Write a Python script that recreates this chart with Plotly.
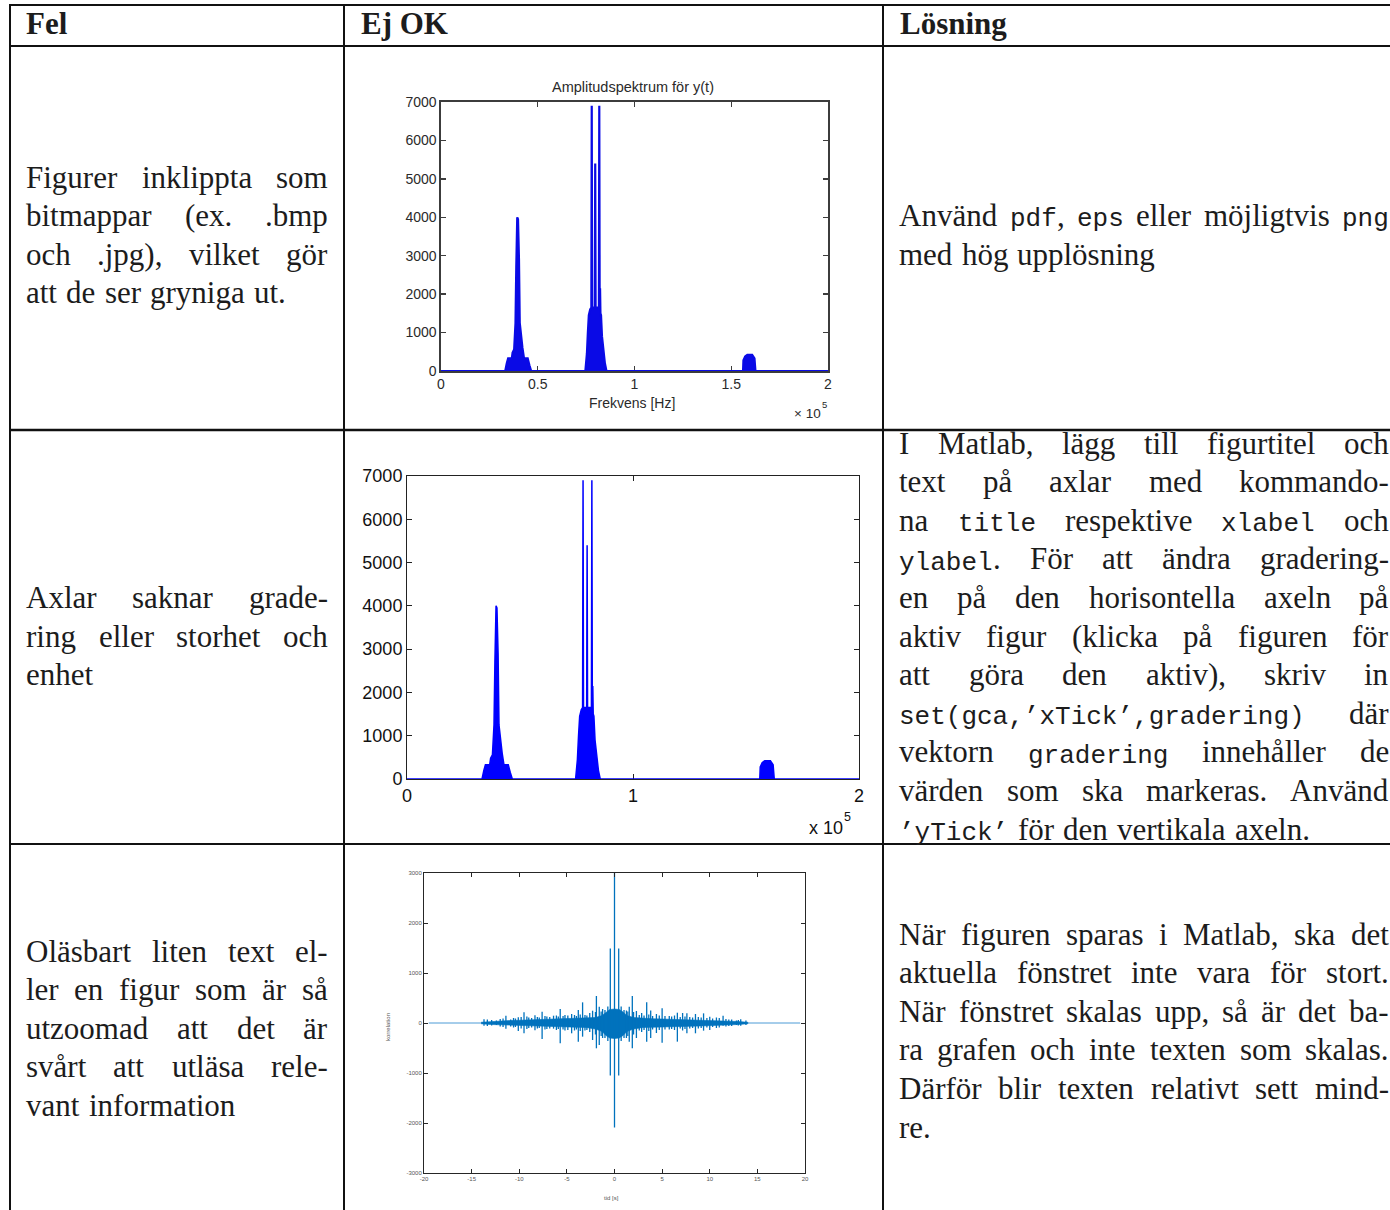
import plotly.graph_objects as go

W, H = 1390, 1210

# ---------------- data ----------------
freq_hz = [0, 33200, 34000, 34700, 36600, 37000, 37800, 38500, 38900, 39400, 39800, 40300, 40700, 41300, 42100, 42900, 44800, 45700, 46600,
           74600, 75400, 75900, 76400, 77100, 77700, 77900, 78100, 79500, 79700, 79900, 81600, 81800, 82000, 82200, 82400, 82700, 83200, 84000, 84700, 85500,
           156100, 156300, 157200, 158300, 160800, 162000, 162500, 200000]
amplitude = [0, 0, 200, 330, 330, 480, 560, 1250, 2700, 4000, 3950, 2900, 1250, 900, 600, 330, 330, 150, 0,
             0, 450, 1000, 1450, 1600, 1650, 6900, 1650, 1650, 5400, 1650, 1650, 6900, 1700, 2150, 1500, 1450, 900, 500, 200, 0,
             0, 280, 380, 420, 420, 330, 0, 0]

spec_yticks = [0, 1000, 2000, 3000, 4000, 5000, 6000, 7000]
spec1_xtick_vals = [0, 50000, 100000, 150000, 200000]
spec1_xtick_text = ["0", "0.5", "1", "1.5", "2"]
spec2_xtick_vals = [0, 100000, 200000]
spec2_xtick_text = ["0", "1", "2"]

lag_extent = [-19.5, 19.5]
band_t = [-14, -13, -12, -11, -10, -9, -8, -7, -6, -5, -4, -3, -2, -1.3, -0.9, -0.5, 0,
          0.5, 0.9, 1.3, 2, 3, 4, 5, 6, 7, 8, 9, 10, 11, 12, 13, 14]
band_hi = [15, 30, 40, 50, 55, 60, 65, 70, 75, 80, 85, 90, 110, 150, 220, 270, 280,
           270, 220, 150, 110, 90, 85, 80, 75, 70, 65, 60, 55, 50, 40, 30, 15]
band_lo = [-15, -30, -40, -50, -55, -60, -65, -70, -75, -80, -85, -90, -120, -170, -250, -300, -310,
           -300, -250, -170, -120, -90, -85, -80, -75, -70, -65, -60, -55, -50, -40, -30, -15]
spike_t = [-13.7, -13.35, -12.4, -11.4, -10.9, -10.1, -9.5, -9.0, -8.35, -7.6, -7.1, -6.4, -5.7, -5.2, -4.5, -3.8,
           -3.35, -2.6, -2.3, -1.9, -1.6, -1.25, -0.44, 0.0, 0.44, 1.25, 1.55, 1.87, 2.3, 2.85, 3.38, 3.8, 4.4,
           5.0, 5.75, 6.6, 7.15, 7.6, 8.5, 9.35, 10.0, 10.7, 11.4, 12.0, 12.8, 13.25, 13.8]
spike_top = [73, 70, 50, 146, 70, 113, 213, 110, 153, 226, 130, 146, 280, 160, 180, 260,
             413, 200, 246, 540, 326, 280, 1490, 3000, 1490, 250, 326, 540, 240, 200, 413, 250, 180,
             293, 140, 206, 200, 193, 180, 193, 126, 110, 146, 70, 50, 73, 50]
spike_bottom = [-53, -60, -40, -113, -70, -160, -206, -100, -146, -320, -120, -113, -406, -150, -206, -373,
                -273, -180, -340, -506, -440, -300, -1050, -2090, -1050, -300, -373, -506, -300, -180, -373, -300, -200,
                -393, -130, -373, -150, -206, -206, -153, -140, -100, -53, -60, -40, -53, -40]
minor_t = [-12.9, -12.0, -11.7, -10.6, -10.4, -9.8, -9.2, -8.7, -8.1, -7.9, -7.3, -6.8, -6.1, -5.9, -5.4, -4.9,
           -4.2, -4.0, -3.6, -3.1, -2.9, -2.0, -1.4, -1.0, -0.7, 0.7, 1.0, 1.4, 2.0, 2.6, 3.1, 3.6, 4.0, 4.7,
           5.3, 6.0, 6.3, 6.9, 7.4, 7.9, 8.2, 8.8, 9.1, 9.7, 10.3, 11.0, 11.7, 12.3, 13.0]
minor_top = [60, 80, 90, 100, 90, 120, 130, 100, 120, 110, 140, 120, 150, 130, 140, 150,
             160, 140, 170, 160, 150, 220, 230, 260, 330, 330, 260, 230, 220, 160, 150, 170, 140, 150,
             140, 130, 150, 120, 130, 120, 110, 120, 110, 100, 90, 100, 80, 70, 60]
minor_bottom = [-50, -70, -80, -90, -80, -110, -120, -90, -110, -100, -130, -110, -140, -120, -130, -140,
                -150, -130, -160, -150, -140, -230, -260, -300, -360, -360, -300, -260, -230, -150, -140, -160, -130, -140,
                -130, -120, -140, -110, -120, -110, -100, -110, -100, -90, -80, -90, -70, -60, -50]
corr_xticks = [-20, -15, -10, -5, 0, 5, 10, 15, 20]
corr_xtick_text = ["-20", "-15", "-10", "-5", "0", "5", "10", "15", "20"]
corr_yticks = [-3000, -2000, -1000, 0, 1000, 2000, 3000]
corr_ytick_text = ["-3000", "-2000", "-1000", "0", "1000", "2000", "3000"]

header_labels = ["Fel", "Ej OK", "Lösning"]
row1_col1 = ["Figurer inklippta som", "bitmappar (ex. .bmp", "och .jpg), vilket gör", "att de ser gryniga ut."]
row1_col3 = ["Använd {pdf}, {eps} eller möjligtvis {png}", "med hög upplösning"]
row2_col1 = ["Axlar saknar grade-", "ring eller storhet och", "enhet"]
row2_col3 = ["I Matlab, lägg till figurtitel och", "text på axlar med kommando-",
             "na {title} respektive {xlabel} och", "{ylabel}. För att ändra gradering-",
             "en på den horisontella axeln på", "aktiv figur (klicka på figuren för",
             "att göra den aktiv), skriv in", "{set(gca,’xTick’,gradering)} där",
             "vektorn {gradering} innehåller de", "värden som ska markeras. Använd",
             "{’yTick’} för den vertikala axeln."]
row3_col1 = ["Oläsbart liten text el-", "ler en figur som är så", "utzoomad att det är",
             "svårt att utläsa rele-", "vant information"]
row3_col3 = ["När figuren sparas i Matlab, ska det", "aktuella fönstret inte vara för stort.",
             "När fönstret skalas upp, så är det ba-", "ra grafen och inte texten som skalas.",
             "Därför blir texten relativt sett mind-", "re."]


def px(x):
    return x / W


def py(y):
    return 1 - y / H


FS_RM = 31
FS_TT = 26
FS_HD = 31
LEAD = 38.6
TXT = "#1c1c1c"
SERIF = "Liberation Serif"
MONO = "Liberation Mono"

TIMES_W = {
    'a': 444, 'b': 500, 'c': 444, 'd': 500, 'e': 444, 'f': 333, 'g': 500, 'h': 500, 'i': 278, 'j': 278,
    'k': 500, 'l': 278, 'm': 778, 'n': 500, 'o': 500, 'p': 500, 'q': 500, 'r': 333, 's': 389, 't': 278,
    'u': 500, 'v': 500, 'w': 722, 'x': 500, 'y': 500, 'z': 444,
    'A': 722, 'B': 667, 'C': 667, 'D': 722, 'E': 611, 'F': 556, 'G': 722, 'H': 722, 'I': 333, 'J': 389,
    'K': 722, 'L': 611, 'M': 889, 'N': 722, 'O': 722, 'P': 556, 'Q': 722, 'R': 667, 'S': 556, 'T': 611,
    'U': 722, 'V': 722, 'W': 944, 'X': 722, 'Y': 722, 'Z': 611,
    'ä': 444, 'å': 444, 'ö': 500, 'Ä': 722, 'Å': 722, 'Ö': 722,
    '.': 250, ',': 250, '(': 333, ')': 333, '-': 333, "'": 180, '’': 333, ' ': 250, ':': 278,
}

annotations = []


def add_ann(text, x, baseline, fs, family, anchor='left', weight='normal', descent=0.216, color=TXT):
    annotations.append(dict(
        text=text, x=px(x), y=py(baseline + descent * fs), xref='paper', yref='paper',
        xanchor=anchor, yanchor='bottom', showarrow=False, borderpad=0, borderwidth=0,
        font=dict(family=family, size=fs, color=color, weight=weight)))


def add_label(text, x, y, size, color, anchor='center', angle=0):
    annotations.append(dict(text=text, x=px(x), y=py(y), xref='paper', yref='paper',
                            xanchor=anchor, yanchor='middle', showarrow=False, textangle=angle,
                            borderpad=0, borderwidth=0,
                            font=dict(family='Liberation Sans', size=size, color=color)))


def parse_word(word):
    segs, buf, mono = [], '', False
    for ch in word:
        if ch == '{':
            if buf:
                segs.append((buf, mono))
            buf, mono = '', True
        elif ch == '}':
            if buf:
                segs.append((buf, mono))
            buf, mono = '', False
        else:
            buf += ch
    if buf:
        segs.append((buf, mono))
    return segs


def seg_w(s, mono):
    if mono:
        return len(s) * 0.6 * FS_TT
    return sum(TIMES_W.get(c, 500) for c in s) / 1000 * FS_RM


def place(s, mono, x, base, anchor):
    if mono:
        add_ann(s, x, base, FS_TT, MONO, anchor, descent=0.300)
    else:
        add_ann(s, x, base, FS_RM, SERIF, anchor, descent=0.216)


def layout_par(lines, x0, x1, first_base):
    for i, line in enumerate(lines):
        base = first_base + i * LEAD
        words = [parse_word(w) for w in line.split(' ')]
        widths = [sum(seg_w(s, m) for s, m in w) for w in words]
        last = (i == len(lines) - 1)
        justify = (not last) and len(words) > 1
        gap = (x1 - x0 - sum(widths)) / (len(words) - 1) if justify else 0.3 * FS_RM
        cx = x0
        for j, (w, ww) in enumerate(zip(words, widths)):
            if justify and j == len(words) - 1:
                rx = x1
                for s, m in reversed(w):
                    place(s, m, rx, base, 'right')
                    rx -= seg_w(s, m)
            else:
                sx = cx
                for s, m in w:
                    place(s, m, sx, base, 'left')
                    sx += seg_w(s, m)
            cx += ww + gap


fig = go.Figure()

# chart 1: bitmap screenshot of the spectrum
fig.add_trace(go.Scatter(x=freq_hz, y=amplitude, mode='lines', fill='tozeroy',
                         line=dict(color='#0a0ae6', width=2.2), fillcolor='#0a0ae6',
                         xaxis='x', yaxis='y', showlegend=False, hoverinfo='skip'))
# chart 2: same spectrum, vector style
fig.add_trace(go.Scatter(x=freq_hz, y=amplitude, mode='lines', fill='tozeroy',
                         line=dict(color='#0000ff', width=1.5), fillcolor='#0000ff',
                         xaxis='x2', yaxis='y2', showlegend=False, hoverinfo='skip'))
# chart 3: correlation
fig.add_trace(go.Scatter(x=lag_extent, y=[0, 0], mode='lines',
                         line=dict(color='#4d9bd6', width=1),
                         xaxis='x3', yaxis='y3', showlegend=False, hoverinfo='skip'))
fig.add_trace(go.Scatter(x=band_t + band_t[::-1], y=band_hi + band_lo[::-1], mode='lines', fill='toself',
                         line=dict(color='#0072BD', width=0.6), fillcolor='#0072BD',
                         xaxis='x3', yaxis='y3', showlegend=False, hoverinfo='skip'))
sx, sy = [], []
for t, top, bot in zip(spike_t + minor_t, spike_top + minor_top, spike_bottom + minor_bottom):
    sx += [t, t, None]
    sy += [top, bot, None]
fig.add_trace(go.Scatter(x=sx, y=sy, mode='lines', line=dict(color='#0072BD', width=1.3),
                         xaxis='x3', yaxis='y3', showlegend=False, hoverinfo='skip'))

c1 = (441, 828, 102, 371)
c2 = (407, 859, 476, 779)
c3 = (424, 805, 873, 1173)


def dom(c):
    return [px(c[0]), px(c[1])], [py(c[3]), py(c[2])]


d1x, d1y = dom(c1)
d2x, d2y = dom(c2)
d3x, d3y = dom(c3)

common = dict(showgrid=False, zeroline=False, showline=True, mirror='ticks', ticks='inside',
              fixedrange=True, automargin=False)

fig.update_layout(
    template='none',
    xaxis=dict(domain=d1x, anchor='y', range=[0, 200000], tickvals=spec1_xtick_vals, ticktext=spec1_xtick_text,
               linecolor='#3c3c3c', linewidth=1.6, tickcolor='#3c3c3c', ticklen=5, tickwidth=1.3,
               tickfont=dict(family='Liberation Sans', size=14, color='#2a2a2a'), layer='below traces', **common),
    yaxis=dict(domain=d1y, anchor='x', range=[0, 7000], tickvals=spec_yticks,
               linecolor='#3c3c3c', linewidth=1.6, tickcolor='#3c3c3c', ticklen=5, tickwidth=1.3,
               tickfont=dict(family='Liberation Sans', size=14, color='#2a2a2a'), **common),
    xaxis2=dict(domain=d2x, anchor='y2', range=[0, 200000], tickvals=spec2_xtick_vals, ticktext=spec2_xtick_text,
                linecolor='#222', linewidth=1, tickcolor='#222', ticklen=5,
                tickfont=dict(family='Liberation Sans', size=18, color='#111'), layer='below traces', **common),
    yaxis2=dict(domain=d2y, anchor='x2', range=[0, 7000], tickvals=spec_yticks,
                linecolor='#222', linewidth=1, tickcolor='#222', ticklen=5,
                tickfont=dict(family='Liberation Sans', size=18, color='#111'), **common),
    xaxis3=dict(domain=d3x, anchor='y3', range=[-20, 20], tickvals=corr_xticks, ticktext=corr_xtick_text,
                linecolor='#262626', linewidth=1, tickcolor='#262626', ticklen=4,
                tickfont=dict(family='Liberation Sans', size=6, color='#555'), **common),
    yaxis3=dict(domain=d3y, anchor='x3', range=[-3000, 3000], tickvals=corr_yticks, ticktext=corr_ytick_text,
                linecolor='#262626', linewidth=1, tickcolor='#262626', ticklen=4,
                tickfont=dict(family='Liberation Sans', size=6, color='#555'), **common),
)

# chart labels
add_label("Amplitudspektrum för y(t)", 633, 87, 14.5, '#2a2a2a')
add_label("Frekvens [Hz]", 632, 403, 14, '#2a2a2a')
add_label("× 10", 821, 413, 13.5, '#2a2a2a', anchor='right')
add_label("5", 822, 404, 9.5, '#2a2a2a', anchor='left')
add_label("x 10", 843, 828, 18, '#111', anchor='right')
add_label("5", 844, 817, 12.5, '#111', anchor='left')
add_label("tid [s]", 611, 1198, 6, '#555')
add_label("korrelation", 388, 1027, 6, '#555', angle=-90)

# table text
for label, xx in zip(header_labels, [26, 361, 900]):
    add_ann(label, xx, 34, FS_HD, SERIF, 'left', weight='bold')

layout_par(row1_col1, 26, 328, 188)
layout_par(row1_col3, 899, 1389, 226.6)
layout_par(row2_col1, 26, 328, 608.4)
layout_par(row2_col3, 899, 1389, 454)
layout_par(row3_col1, 26, 328, 962)
layout_par(row3_col3, 899, 1389, 945)

# table rules
shapes = []


def hline(y, x0, x1, w):
    shapes.append(dict(type='line', xref='paper', yref='paper', x0=px(x0), x1=px(x1), y0=py(y), y1=py(y),
                       line=dict(color='#111', width=w)))


def vline(x, y0, y1, w):
    shapes.append(dict(type='line', xref='paper', yref='paper', x0=px(x), x1=px(x), y0=py(y0), y1=py(y1),
                       line=dict(color='#111', width=w)))


hline(5, 9, 1392, 2)
hline(46, 9, 1392, 2)
hline(430, 9, 1392, 2.5)
hline(844, 9, 1392, 2)
vline(10, 4, 1215, 2)
vline(344, 4, 1215, 2)
vline(883, 4, 1215, 2)

fig.update_layout(
    width=W, height=H, autosize=False, margin=dict(l=0, r=0, t=0, b=0, pad=0, autoexpand=False),
    paper_bgcolor='white', plot_bgcolor='white',
    annotations=annotations, shapes=shapes, showlegend=False,
    font=dict(family=SERIF, color=TXT),
)

fig.write_html("out.html",
               config={'displayModeBar': False, 'responsive': False, 'staticPlot': True},
               post_script="var s=document.createElement('style');"
                           "s.textContent='html,body{margin:0!important;padding:0!important;overflow:hidden!important;}';"
                           "document.head.appendChild(s);")
